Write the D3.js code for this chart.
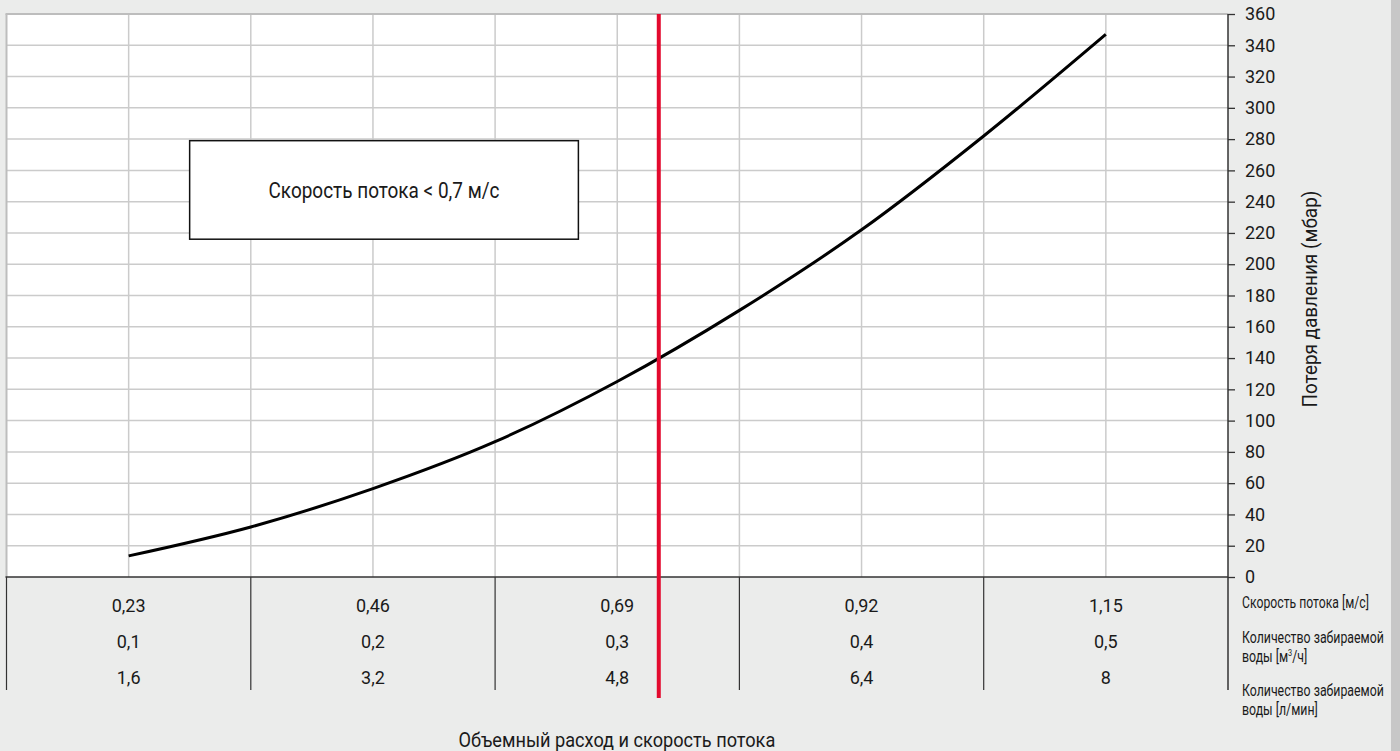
<!DOCTYPE html>
<html><head><meta charset="utf-8">
<script src="https://cdn.jsdelivr.net/npm/d3@7"></script>
<style>
html,body{margin:0;padding:0;background:#ebeceb;}
svg{display:block;}
.num{font-family:Roboto,"Open Sans",sans-serif;font-size:18px;fill:#1a1a1a;}
.cond{font-family:Roboto,"Liberation Sans",sans-serif;fill:#1a1a1a;}
</style></head>
<body>
<svg id="chart" width="1400" height="751"></svg>
<script>
// Data
const flowM3h = [0.1, 0.15, 0.2, 0.25, 0.3, 0.35, 0.4, 0.45, 0.5];
const pressureLoss = [13.5, 32, 56.5, 86.5, 125, 170.5, 222, 282, 347];
const tableColumns = [0.1, 0.2, 0.3, 0.4, 0.5];
const speedLabels = ["0,23", "0,46", "0,69", "0,92", "1,15"];
const volumeLabels = ["0,1", "0,2", "0,3", "0,4", "0,5"];
const litreLabels = ["1,6", "3,2", "4,8", "6,4", "8"];
const yTicks = d3.range(0, 361, 20);
const limitFlow = 0.317;
const annotationText = "Скорость потока < 0,7 м/с";
const yTitle = "Потеря давления (мбар)";
const xTitle = "Объемный расход и скорость потока";

const svg = d3.select("#chart");
const L = 6.5, R = 1228, T = 14, B = 577;
const x = d3.scaleLinear().domain([0.05, 0.55]).range([L, R]);
const y = d3.scaleLinear().domain([0, 360]).range([B, T]);

// condensed text helper: draws text in a group and squeezes it horizontally to a width
function condensed(parent, cx, cy, lines, size, width, anchor, lineGap, rotate) {
  const g = parent.append("g").attr("class", "cond");
  const inner = g.append("g");
  const t = inner.append("text").style("font-size", size + "px");
  lines.forEach((ln, i) => {
    const ts = t.append("tspan").attr("x", 0).attr("dy", i === 0 ? 0 : lineGap);
    ln.forEach(part => {
      if (part.sup) ts.append("tspan").attr("dy", -6).style("font-size", (size * 0.6) + "px").text(part.sup);
      else if (part.after) ts.append("tspan").attr("dy", 6).text(part.t);
      else ts.append("tspan").text(part.t);
    });
  });
  const w = t.node().getBBox().width;
  const k = width / w;
  const dx = anchor === "middle" ? -width / 2 : 0;
  inner.attr("transform", `translate(${dx},0) scale(${k},1)`);
  g.attr("transform", `translate(${cx},${cy})` + (rotate ? ` rotate(${rotate})` : ""));
  return g;
}

// right grey strip
svg.append("rect").attr("x", 1391).attr("y", 0).attr("width", 9).attr("height", 751).attr("fill", "#c7c7c7");

// plot background
svg.append("rect").attr("x", L).attr("y", T).attr("width", R - L).attr("height", B - T).attr("fill", "#fff");

// grid
const xt = x.ticks(10);
svg.append("g").selectAll("line").data(xt.slice(1, -1)).join("line")
  .attr("x1", d => x(d)).attr("x2", d => x(d)).attr("y1", T).attr("y2", B)
  .attr("stroke", "#cbcbcb").attr("stroke-width", 1.5);
svg.append("g").selectAll("line").data(yTicks.slice(1)).join("line")
  .attr("x1", L).attr("x2", R).attr("y1", d => y(d)).attr("y2", d => y(d))
  .attr("stroke", "#cbcbcb").attr("stroke-width", 1.5);
// top & left border
svg.append("line").attr("x1", L - 1).attr("x2", R).attr("y1", T).attr("y2", T).attr("stroke", "#bdbdbd").attr("stroke-width", 2);
svg.append("line").attr("x1", L).attr("x2", L).attr("y1", T).attr("y2", B).attr("stroke", "#bdbdbd").attr("stroke-width", 2);

// annotation box
const bx0 = x(0.1) + 61, bx1 = x(0.28) + 10;
svg.append("rect").attr("x", bx0).attr("y", y(279)).attr("width", bx1 - bx0).attr("height", y(216) - y(279))
  .attr("fill", "#fff").attr("stroke", "#111").attr("stroke-width", 1.5);
condensed(svg, (bx0 + bx1) / 2, y(247.5) + 8, [[{t: annotationText}]], 21.5, 231, "middle");

// curve
const line = d3.line().x((d, i) => x(flowM3h[i])).y(d => y(d)).curve(d3.curveMonotoneX);
svg.append("path").attr("d", line(pressureLoss)).attr("fill", "none").attr("stroke", "#000").attr("stroke-width", 3);

// bottom axis line
svg.append("line").attr("x1", L - 1).attr("x2", R).attr("y1", B).attr("y2", B).attr("stroke", "#333").attr("stroke-width", 1.5);

// table separators
const seps = [0.05, 0.15, 0.25, 0.35, 0.45];
svg.append("g").selectAll("line").data(seps).join("line")
  .attr("x1", d => x(d)).attr("x2", d => x(d)).attr("y1", B).attr("y2", 690)
  .attr("stroke", "#333").attr("stroke-width", 1.2);

// table values
const rows = [[speedLabels, 605], [volumeLabels, 641], [litreLabels, 677]];
rows.forEach(([labels, yy]) => {
  svg.append("g").selectAll("text").data(tableColumns).join("text")
    .attr("class", "num").attr("x", d => x(d)).attr("y", yy)
    .attr("text-anchor", "middle").attr("dominant-baseline", "central")
    .text((d, i) => labels[i]);
});

// right axis
const yAxis = d3.axisRight(y).tickValues(yTicks).tickSize(7).tickPadding(10).tickFormat(d3.format("d"));
const ga = svg.append("g").attr("transform", `translate(${R},0)`).call(yAxis);
ga.select(".domain").remove();
ga.selectAll("line").attr("stroke", "#333").attr("stroke-width", 1.3);
ga.selectAll("text").attr("fill", "#1a1a1a").style("font-family", "Roboto, 'Open Sans', sans-serif").style("font-size", "18px");
svg.append("line").attr("x1", R).attr("x2", R).attr("y1", T).attr("y2", 690).attr("stroke", "#333").attr("stroke-width", 1.5);

// red limit line
svg.append("line").attr("x1", x(limitFlow)).attr("x2", x(limitFlow)).attr("y1", T).attr("y2", 698)
  .attr("stroke", "#e30a2e").attr("stroke-width", 4);

// row labels
condensed(svg, 1242, 608, [[{t: "Скорость потока [м/с]"}]], 16.5, 127, "start");
condensed(svg, 1242, 643, [[{t: "Количество забираемой"}], [{t: "воды [м"}, {sup: "3"}, {t: "/ч]", after: true}]], 16.5, 142, "start", 19);
condensed(svg, 1242, 696, [[{t: "Количество забираемой"}], [{t: "воды [л/мин]"}]], 16.5, 142, "start", 19);

// titles
condensed(svg, 1317, 299, [[{t: yTitle}]], 21, 217, "middle", 0, -90);
condensed(svg, 617, 747, [[{t: xTitle}]], 21, 317, "middle");
</script>
</body></html>
